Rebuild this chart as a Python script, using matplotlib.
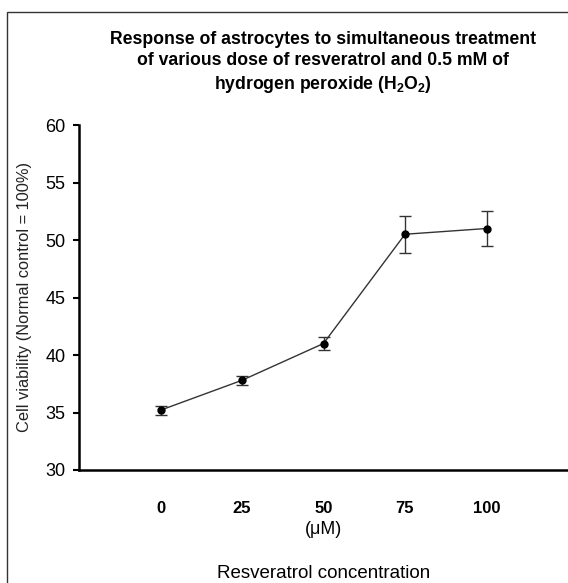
import matplotlib
matplotlib.use("Agg")
import matplotlib.pyplot as plt
from matplotlib.patches import Rectangle

plt.rcParams['font.family'] = ['Liberation Sans', 'DejaVu Sans']
plt.rcParams['mathtext.fontset'] = 'custom'
plt.rcParams['mathtext.rm'] = 'Liberation Sans'
plt.rcParams['mathtext.bf'] = 'Liberation Sans:bold'

# Data
concentrations = ["0", "25", "50", "75", "100"]
viability = [35.2, 37.8, 41.0, 50.5, 51.0]
errors = [0.4, 0.4, 0.6, 1.6, 1.5]
y_ticks = [30, 35, 40, 45, 50, 55, 60]

title = ("Response of astrocytes to simultaneous treatment\n"
         "of various dose of resveratrol and 0.5 mM of\n"
         "hydrogen peroxide $\\mathbf{(H_2O_2)}$")

fig = plt.figure(figsize=(5.68, 5.83), dpi=100)
W, H = 568, 583
ax = fig.add_axes([79 / W, (H - 470) / H, 1 - 79 / W, (470 - 125) / H])

xs = list(range(len(concentrations)))
ax.errorbar(xs, viability, yerr=errors, fmt='-o', color='#333333',
            lw=1.0, ecolor='#333333', elinewidth=1.0, capsize=4.5,
            capthick=1.0, markersize=5, markerfacecolor='black',
            markeredgecolor='black')

ax.set_xlim(-1, 5)
ax.set_ylim(30, 60)
ax.set_yticks(y_ticks)
ax.set_yticklabels([str(t) for t in y_ticks], fontsize=13)
ax.set_xticks(xs)
ax.set_xticklabels(concentrations, fontsize=12, fontweight='bold')
ax.tick_params(axis='x', length=0, pad=22)
ax.tick_params(axis='y', length=4.5, width=1.5, direction='out', pad=5)

for s in ['top', 'right']:
    ax.spines[s].set_visible(False)
for s in ['left', 'bottom']:
    ax.spines[s].set_linewidth(1.8)
    ax.spines[s].set_color('black')

ax.set_ylabel("Cell viability (Normal control = 100%)", fontsize=11.8,
              labelpad=10, color='#222222')

fig.text(324 / W, 1 - 530 / H, "(\u03bcM)", ha='center', va='center',
         fontsize=12.8)
fig.text(324 / W, 1 - 573 / H, "Resveratrol concentration", ha='center',
         va='center', fontsize=13.5)

fig.text(323 / W, 1 - 63 / H, title, ha='center', va='center',
         fontsize=12.7, fontweight='bold', linespacing=1.3)

rect = Rectangle((7 / W, -0.1), 1.2, 1 - 12 / H + 0.1,
                 transform=fig.transFigure, fill=False,
                 edgecolor='#333333', lw=1.0)
fig.patches.append(rect)

fig.savefig("out.png", dpi=100)
